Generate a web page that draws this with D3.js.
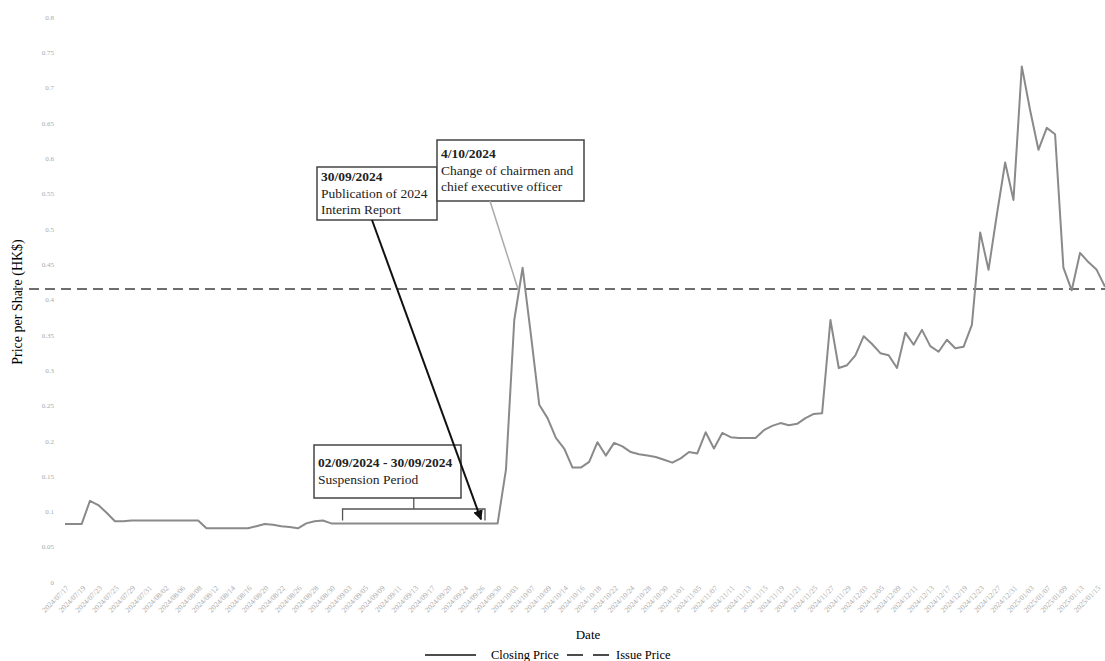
<!DOCTYPE html>
<html>
<head>
<meta charset="utf-8">
<script src="https://cdn.jsdelivr.net/npm/d3@7"></script>
<style>
  body { margin: 0; background: #fff; }
  svg { font-family: "Liberation Serif", "Times New Roman", serif; }
</style>
</head>
<body>
<div id="chart"></div>
<script>
// Trading dates (HK) and closing prices
var dates = [
  "2024/07/17","2024/07/18","2024/07/19","2024/07/22","2024/07/23","2024/07/24","2024/07/25","2024/07/26","2024/07/29","2024/07/30",
  "2024/07/31","2024/08/01","2024/08/02","2024/08/05","2024/08/06","2024/08/07","2024/08/08","2024/08/09","2024/08/12","2024/08/13",
  "2024/08/14","2024/08/15","2024/08/16","2024/08/19","2024/08/20","2024/08/21","2024/08/22","2024/08/23","2024/08/26","2024/08/27",
  "2024/08/28","2024/08/29","2024/08/30","2024/09/02","2024/09/03","2024/09/04","2024/09/05","2024/09/06","2024/09/09","2024/09/10",
  "2024/09/11","2024/09/12","2024/09/13","2024/09/16","2024/09/17","2024/09/19","2024/09/20","2024/09/23","2024/09/24","2024/09/25",
  "2024/09/26","2024/09/27","2024/09/30","2024/10/02","2024/10/03","2024/10/04","2024/10/07","2024/10/08","2024/10/09","2024/10/10",
  "2024/10/14","2024/10/15","2024/10/16","2024/10/17","2024/10/18","2024/10/21","2024/10/22","2024/10/23","2024/10/24","2024/10/25",
  "2024/10/28","2024/10/29","2024/10/30","2024/10/31","2024/11/01","2024/11/04","2024/11/05","2024/11/06","2024/11/07","2024/11/08",
  "2024/11/11","2024/11/12","2024/11/13","2024/11/14","2024/11/15","2024/11/18","2024/11/19","2024/11/20","2024/11/21","2024/11/22",
  "2024/11/25","2024/11/26","2024/11/27","2024/11/28","2024/11/29","2024/12/02","2024/12/03","2024/12/04","2024/12/05","2024/12/06",
  "2024/12/09","2024/12/10","2024/12/11","2024/12/12","2024/12/13","2024/12/16","2024/12/17","2024/12/18","2024/12/19","2024/12/20",
  "2024/12/23","2024/12/24","2024/12/27","2024/12/30","2024/12/31","2025/01/02","2025/01/03","2025/01/06","2025/01/07","2025/01/08",
  "2025/01/09","2025/01/10","2025/01/13","2025/01/14","2025/01/15","2025/01/16"
];

var closingPrice = [
  0.082,0.082,0.082,0.115,0.109,0.098,0.086,0.086,0.087,0.087,
  0.087,0.087,0.087,0.087,0.087,0.087,0.087,0.076,0.076,0.076,
  0.076,0.076,0.076,0.079,0.082,0.081,0.079,0.078,0.076,0.083,
  0.086,0.087,0.083,0.083,0.083,0.083,0.083,0.083,0.083,0.083,
  0.083,0.083,0.083,0.083,0.083,0.083,0.083,0.083,0.083,0.083,
  0.083,0.083,0.083,0.159,0.371,0.445,0.350,0.251,0.232,0.204,
  0.189,0.162,0.162,0.170,0.198,0.179,0.197,0.192,0.184,0.181,
  0.179,0.177,0.173,0.169,0.175,0.184,0.182,0.212,0.189,0.211,
  0.205,0.204,0.204,0.204,0.215,0.221,0.225,0.222,0.224,0.232,
  0.238,0.239,0.371,0.303,0.307,0.321,0.348,0.337,0.324,0.321,
  0.303,0.353,0.336,0.357,0.334,0.326,0.343,0.331,0.333,0.364,
  0.495,0.442,0.520,0.594,0.541,0.730,0.668,0.612,0.643,0.634,
  0.445,0.413,0.466,0.453,0.442,0.418
];

var issuePrice = 0.415;
var yTicks = [0, 0.05, 0.1, 0.15, 0.2, 0.25, 0.3, 0.35, 0.4, 0.45, 0.5, 0.55, 0.6, 0.65, 0.7, 0.75, 0.8];

// annotation boxes: text lines, box [x, y, w, h], first baseline offset
var noteReport = {lines: ["30/09/2024", "Publication of 2024", "Interim Report"], box: [317, 167, 120, 53], base: 14};
var noteChair = {lines: ["4/10/2024", "Change of chairmen and", "chief executive officer"], box: [437, 140, 147, 61], base: 18};
var noteSusp = {lines: ["02/09/2024 - 30/09/2024", "Suspension Period"], box: [314, 445, 147, 53], base: 22};

var W = 1105, H = 661;
var margin = {left: 65, right: 0, top: 17, bottom: 79};

var svg = d3.select("#chart").append("svg")
  .attr("width", W).attr("height", H);

var x = d3.scalePoint()
  .domain(dates)
  .range([margin.left, W - margin.right]);

var y = d3.scaleLinear()
  .domain([0, 0.8])
  .range([H - margin.bottom, margin.top]);

// y axis (labels only)
var yAxis = svg.append("g")
  .attr("transform", "translate(" + (margin.left - 8) + ",0)")
  .call(d3.axisLeft(y).tickValues(yTicks).tickSize(0).tickFormat(d3.format("")));
yAxis.select(".domain").remove();
yAxis.selectAll("text")
  .attr("fill", "#aaa")
  .style("font-size", "7px")
  .style("font-family", "Liberation Serif, serif");

// x axis (rotated labels, every other date)
var xAxis = svg.append("g")
  .attr("transform", "translate(0," + (H - margin.bottom + 3) + ")")
  .call(d3.axisBottom(x).tickValues(dates.filter((d, i) => i % 2 === 0)).tickSize(0));
xAxis.select(".domain").remove();
xAxis.selectAll("text")
  .attr("fill", "#aaa")
  .style("font-size", "7.5px")
  .style("font-family", "Liberation Serif, serif")
  .style("text-anchor", "end")
  .attr("dx", "0")
  .attr("dy", "0.3em")
  .attr("transform", "rotate(-45)");

// axis titles
svg.append("text")
  .attr("transform", "translate(22,302) rotate(-90)")
  .attr("text-anchor", "middle")
  .style("font-size", "14px")
  .text("Price per Share (HK$)");

svg.append("text")
  .attr("x", 588).attr("y", 639)
  .attr("text-anchor", "middle")
  .style("font-size", "13px")
  .text("Date");

// issue price
svg.append("line")
  .attr("x1", 13).attr("x2", W)
  .attr("y1", y(issuePrice)).attr("y2", y(issuePrice))
  .attr("stroke", "#6e6e6e")
  .attr("stroke-width", 2)
  .attr("stroke-dasharray", "10,6");

// closing price
var line = d3.line()
  .x((d, i) => x(dates[i]))
  .y(d => y(d));

svg.append("path")
  .datum(closingPrice)
  .attr("d", line)
  .attr("fill", "none")
  .attr("stroke", "#8a8a8a")
  .attr("stroke-width", 2)
  .attr("stroke-linejoin", "round");

// arrow marker
svg.append("defs").append("marker")
  .attr("id", "arr")
  .attr("viewBox", "0 0 10 10")
  .attr("refX", 9).attr("refY", 5)
  .attr("markerWidth", 5).attr("markerHeight", 5)
  .attr("orient", "auto")
  .append("path")
  .attr("d", "M0,0 L10,5 L0,10 z")
  .attr("fill", "#111");

// suspension bracket
var sStart = x("2024/09/02") + 3, sEnd = x("2024/09/26") + 4;
var bracketY = 509, bracketLow = y(0.083) - 3;
svg.append("path")
  .attr("d", "M" + sStart + "," + bracketLow + " V" + bracketY + " H" + sEnd + " V" + bracketLow +
    " M" + ((sStart + sEnd) / 2) + "," + bracketY + " V" + (noteSusp.box[1] + noteSusp.box[3]))
  .attr("fill", "none")
  .attr("stroke", "#555")
  .attr("stroke-width", 1.3);

[noteReport, noteChair, noteSusp].forEach(function(b){
  var g = svg.append("g");
  g.append("rect")
    .attr("x", b.box[0]).attr("y", b.box[1])
    .attr("width", b.box[2]).attr("height", b.box[3])
    .attr("fill", "#fff")
    .attr("stroke", "#444")
    .attr("stroke-width", 1.5);
  b.lines.forEach(function(t, i){
    g.append("text")
      .attr("x", b.box[0] + 4)
      .attr("y", b.box[1] + b.base + i * 16.5)
      .style("font-size", "13.5px")
      .style("font-weight", i === 0 ? "bold" : "normal")
      .attr("fill", "#222")
      .text(t);
  });
});

// leader lines (drawn over the boxes)
svg.append("line")
  .attr("x1", 372).attr("y1", noteReport.box[1] + noteReport.box[3])
  .attr("x2", x("2024/09/26")).attr("y2", y(0.083) - 4)
  .attr("stroke", "#111")
  .attr("stroke-width", 2)
  .attr("marker-end", "url(#arr)");

svg.append("line")
  .attr("x1", 490).attr("y1", noteChair.box[1] + noteChair.box[3])
  .attr("x2", x("2024/10/04") - 4).attr("y2", y(issuePrice) + 2)
  .attr("stroke", "#aaa")
  .attr("stroke-width", 1.5);

// legend
var lg = svg.append("g").attr("transform", "translate(0,655)");
lg.append("line").attr("x1", 425).attr("x2", 476).attr("y1", 0).attr("y2", 0)
  .attr("stroke", "#111").attr("stroke-width", 1.5);
lg.append("text").attr("x", 491).attr("y", 4).style("font-size", "12.5px").text("Closing Price");
lg.append("line").attr("x1", 567).attr("x2", 610).attr("y1", 0).attr("y2", 0)
  .attr("stroke", "#111").attr("stroke-width", 1.5).attr("stroke-dasharray", "16,10");
lg.append("text").attr("x", 616).attr("y", 4).style("font-size", "12.5px").text("Issue Price");
</script>
</body>
</html>
